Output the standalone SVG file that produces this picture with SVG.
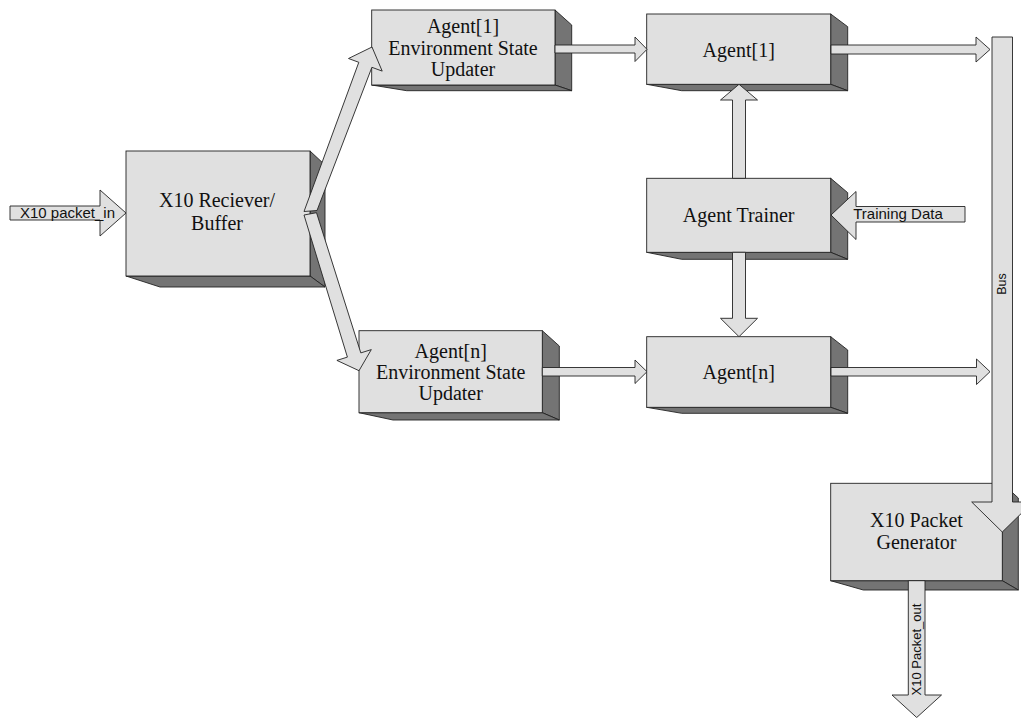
<svg xmlns="http://www.w3.org/2000/svg" width="1021" height="718" viewBox="0 0 1021 718">
<style>
.front{fill:#e0e0e0;stroke:#222;stroke-width:0.9}
.dark{fill:#747474;stroke:#222;stroke-width:0.9;stroke-linejoin:round}
.arrow{fill:#e0e0e0;stroke:#222;stroke-width:0.9;stroke-linejoin:miter}
.lbl{font-family:"Liberation Serif","Times New Roman",serif;font-size:20px;fill:#111;text-anchor:middle}
.sans{font-family:"Liberation Sans",Arial,sans-serif;fill:#111;text-anchor:middle}
</style>
<rect width="1021" height="718" fill="#fff"/>
<g id="receiver">
<polygon class="dark" points="310,151 325,165 325,287 310,276"/>
<polygon class="dark" points="126,276 160,287 325,287 310,276"/>
<rect class="front" x="126" y="151" width="184" height="125"/>
<text class="lbl" x="217" y="206.5">X10 Reciever/</text>
<text class="lbl" x="217" y="229.5">Buffer</text>
</g>
<g id="esu1">
<polygon class="dark" points="555,10 571.7,25 571.7,90.7 555,85"/>
<polygon class="dark" points="371.7,85 406.7,90.7 571.7,90.7 555,85"/>
<rect class="front" x="371.7" y="10" width="183.3" height="75"/>
<text class="lbl" x="463" y="32.5">Agent[1]</text>
<text class="lbl" x="463" y="54.5">Environment State</text>
<text class="lbl" x="463" y="75.5">Updater</text>
</g>
<g id="agent1">
<polygon class="dark" points="830.7,14 847.7,26.7 847.7,90.7 830.7,84.3"/>
<polygon class="dark" points="646.7,84.3 681.7,90.7 847.7,90.7 830.7,84.3"/>
<rect class="front" x="646.7" y="14" width="184" height="70.3"/>
<text class="lbl" x="738.7" y="56.5">Agent[1]</text>
</g>
<g id="trainer">
<polygon class="dark" points="830.7,178.3 847.7,192.7 847.7,259.3 830.7,252.3"/>
<polygon class="dark" points="646.7,252.3 681.7,259.3 847.7,259.3 830.7,252.3"/>
<rect class="front" x="646.7" y="178.3" width="184" height="74"/>
<text class="lbl" x="738.7" y="221.5">Agent Trainer</text>
</g>
<g id="esun">
<polygon class="dark" points="542.3,330.7 559.3,346 559.3,420 542.3,412.7"/>
<polygon class="dark" points="359,412.7 393,420 559.3,420 542.3,412.7"/>
<rect class="front" x="359" y="330.7" width="183.3" height="82"/>
<text class="lbl" x="450.7" y="358">Agent[n]</text>
<text class="lbl" x="450.7" y="379">Environment State</text>
<text class="lbl" x="450.7" y="400">Updater</text>
</g>
<g id="agentn">
<polygon class="dark" points="830.7,336.7 847.7,350 847.7,413.3 830.7,407.3"/>
<polygon class="dark" points="646.7,407.3 681.7,413.3 847.7,413.3 830.7,407.3"/>
<rect class="front" x="646.7" y="336.7" width="184" height="70.6"/>
<text class="lbl" x="738.7" y="379.3">Agent[n]</text>
</g>
<g id="generator">
<polygon class="dark" points="1002.3,483.3 1018.3,498 1018.3,590 1002.3,580.7"/>
<polygon class="dark" points="830.7,580.7 863.3,590 1018.3,590 1002.3,580.7"/>
<rect class="front" x="830.7" y="483.3" width="171.6" height="97.4"/>
<text class="lbl" x="916.5" y="526.7">X10 Packet</text>
<text class="lbl" x="916.5" y="549.3">Generator</text>
</g>
<g id="connectors">
<polygon class="arrow" points="10,206 100,206 100,190 126,213 100,236 100,220 10,220"/>
<text class="sans" x="67.5" y="217.5" font-size="15">X10 packet_in</text>
<polygon class="arrow" points="304,211.5 358.8,62.3 348.5,58.5 372,47 382.2,71.1 371.9,67.3 317,210.5"/>
<polygon class="arrow" points="304,215 316.5,212.7 360.8,352.9 371.3,349.6 359,370.7 336.9,360.4 347.4,357.1"/>
<polygon class="arrow" points="555,45 635,45 635,37 647,49.3 635,61.5 635,53 555,53"/>
<polygon class="arrow" points="831,45 976,45 976,37 990,49.5 976,62 976,54 831,54"/>
<polygon class="arrow" points="542.3,367.5 635,367.5 635,360 647,371.7 635,383.5 635,376 542.3,376"/>
<polygon class="arrow" points="831,367.5 976.5,367.5 976.5,359 990,371.7 976.5,384.5 976.5,376 831,376"/>
<polygon class="arrow" points="732.5,178.3 732.5,100 720.5,100 739,84.3 757.5,100 745.5,100 745.5,178.3"/>
<polygon class="arrow" points="732.5,252.3 732.5,318.3 720.5,318.3 739,336.7 757.5,318.3 745.5,318.3 745.5,252.3"/>
<polygon class="arrow" points="965,206.5 856,206.5 856,191.5 831,215 856,239.5 856,222 965,222"/>
<text class="sans" x="898" y="218.5" font-size="15">Training Data</text>
<polygon class="arrow" points="992,37 1012.5,37 1012.5,502 1033,502 1002.3,532 971.7,502 992,502"/>
<text class="sans" font-size="12.5" transform="translate(1006,284) rotate(-90)">Bus</text>
<polygon class="arrow" points="908.3,580.7 925,580.7 925,695 941.5,695 916.7,717.5 892,695 908.3,695"/>
<text class="sans" font-size="13" transform="translate(921,649.5) rotate(-90)">X10 Packet_out</text>
</g>
</svg>
